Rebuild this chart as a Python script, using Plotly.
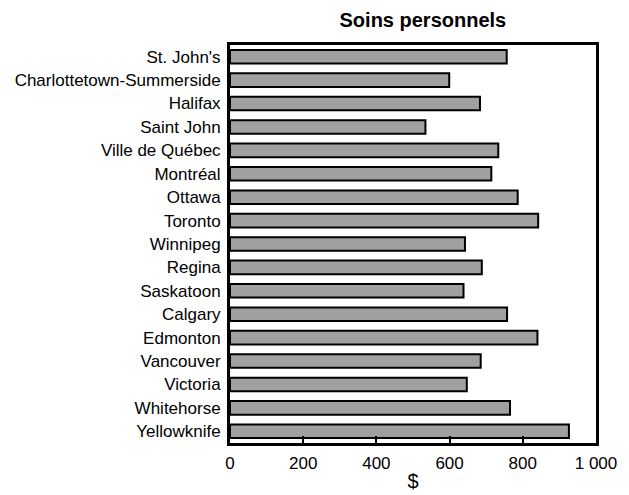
import plotly.graph_objects as go

cities = ["St. John's", "Charlottetown-Summerside", "Halifax", "Saint John",
          "Ville de Québec", "Montréal", "Ottawa", "Toronto", "Winnipeg",
          "Regina", "Saskatoon", "Calgary", "Edmonton", "Vancouver",
          "Victoria", "Whitehorse", "Yellowknife"]
values = [756, 599, 683, 534, 733, 714, 786, 842, 642, 688, 638, 757, 840,
          685, 647, 765, 926]
tick_vals = [0, 200, 400, 600, 800, 1000]
tick_text = ["0", "200", "400", "600", "800", "1 000"]

fig = go.Figure(go.Bar(
    x=values, y=cities, orientation="h",
    marker=dict(color="#a0a0a0", line=dict(color="black", width=2)),
))
fig.update_layout(
    width=621, height=487,
    margin=dict(l=222, r=33, t=37, b=52),
    paper_bgcolor="white", plot_bgcolor="white",
    font=dict(family="Liberation Sans, Arial", size=17, color="black"),
    title=dict(text="<b>Soins personnels</b>", x=0.527, xanchor="center",
               xref="paper", yref="container", y=0.975, yanchor="middle",
               font=dict(size=20)),
    bargap=0.42,
    showlegend=False,
)
fig.update_xaxes(range=[0, 1000], tickvals=tick_vals, ticktext=tick_text,
                 ticks="inside", ticklen=7, tickwidth=2, tickcolor="black",
                 showgrid=False, zeroline=False, ticklabelstandoff=3,
                 automargin=False,
                 showline=True, linecolor="black", linewidth=3, mirror=True,
                 title=dict(text="$", standoff=2))
fig.update_yaxes(categoryorder="array", categoryarray=cities,
                 autorange="reversed", showgrid=False, zeroline=False,
                 automargin=False,
                 ticks="", showline=True, linecolor="black", linewidth=3,
                 mirror=True, ticklabelstandoff=3)
fig.write_html("out.html")
